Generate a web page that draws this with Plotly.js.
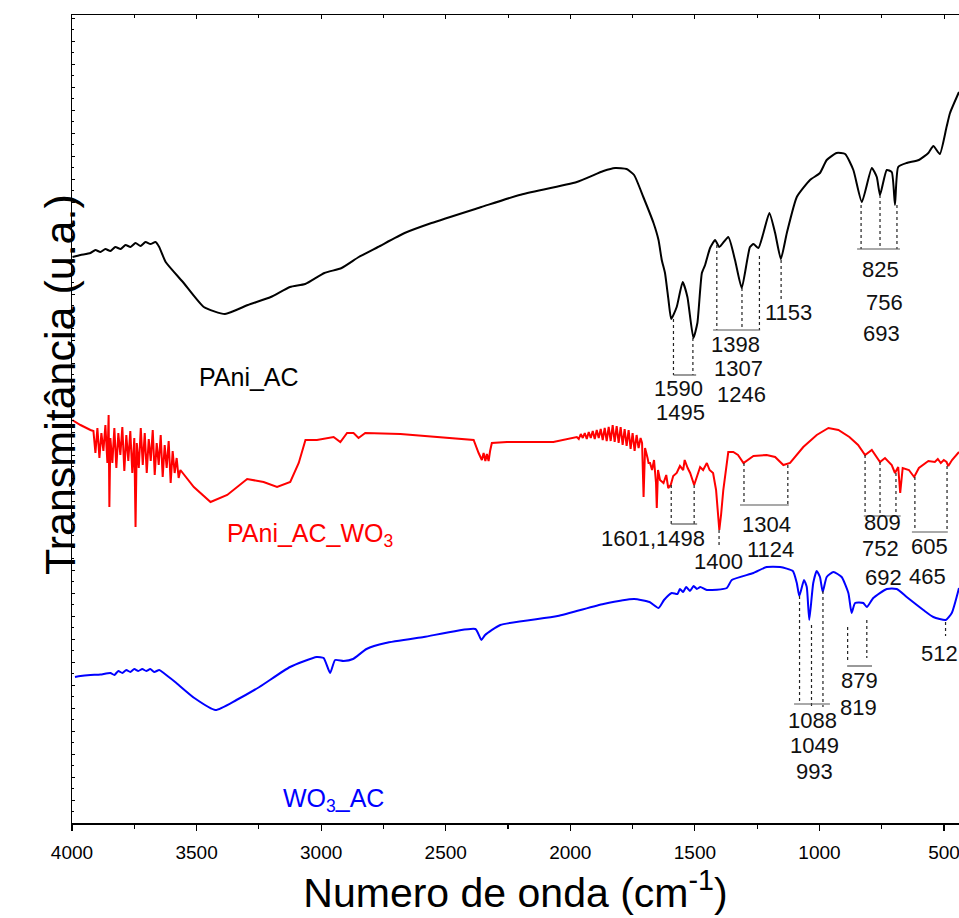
<!DOCTYPE html>
<html>
<head>
<meta charset="utf-8">
<script src="https://cdn.plot.ly/plotly-3.0.1.min.js"></script>
<style>html,body{margin:0;padding:0;background:#fff;}#chart{width:959px;height:918px;}</style>
</head>
<body>
<div id="chart"></div>
<script>
// ---- data: [wavenumber (cm-1), transmittance (a.u.)] ----
const pani_ac = [[3998,566],[3966,568],[3926,570],[3906,573],[3886,571],[3866,574],[3846,572],[3826,576],[3805,574],[3785,578],[3765,576],[3745,580],[3725,577],[3705,581],[3685,579],[3665,581],[3650,576],[3624,561],[3555,541],[3471,516],[3386,509],[3294,518],[3202,526],[3125,536],[3064,539],[2987,550],[2918,555],[2849,566],[2772,576],[2665,590],[2557,600],[2357,616],[2204,628],[1974,641],[1867,652],[1820,655],[1774,654],[1744,648],[1707,626],[1666,600],[1646,583],[1633,563],[1620,550],[1606,523],[1595,504],[1573,516],[1549,541],[1530,526],[1506,485],[1490,500],[1472,550],[1459,558],[1450,566],[1439,575],[1419,583],[1402,576],[1366,586],[1339,563],[1312,535],[1279,576],[1265,579],[1245,575],[1225,590],[1201,610],[1178,590],[1155,564],[1131,590],[1091,626],[1038,643],[998,650],[971,663],[931,670],[897,669],[864,653],[830,621],[790,655],[770,646],[757,628],[730,653],[710,651],[697,618],[684,656],[650,660],[601,663],[563,670],[543,677],[517,669],[490,696],[476,710],[440,731]];

const pani_ac_wo3 = [[3999,403],[3966,398],[3926,393],[3914,392],[3906,370],[3898,395],[3890,365],[3882,390],[3874,372],[3866,398],[3858,360],[3853,408],[3850,316],[3846,385],[3838,360],[3830,395],[3822,355],[3814,390],[3806,368],[3798,396],[3790,352],[3782,388],[3774,362],[3766,392],[3758,350],[3750,385],[3745,296],[3740,380],[3732,355],[3724,395],[3716,358],[3708,390],[3700,350],[3692,384],[3684,362],[3676,393],[3668,348],[3660,380],[3652,358],[3644,388],[3636,346],[3628,378],[3620,355],[3612,382],[3604,340],[3596,372],[3588,350],[3580,365],[3572,345],[3565,353],[3511,336],[3444,321],[3377,328],[3297,344],[3231,341],[3177,336],[3124,341],[3090,360],[3063,383],[3017,383],[2950,386],[2923,381],[2896,390],[2870,390],[2850,385],[2823,390],[2682,389],[2388,383],[2368,370],[2360,365],[2355,363],[2348,370],[2341,362],[2335,369],[2328,362],[2322,372],[2315,380],[2254,381],[2068,381],[1974,386],[1966,384],[1958,389],[1950,385],[1942,390],[1934,384],[1926,391],[1918,385],[1910,392],[1902,384],[1894,393],[1886,385],[1878,394],[1870,383],[1862,395],[1854,382],[1846,396],[1838,382],[1830,398],[1822,381],[1814,397],[1806,380],[1798,396],[1790,378],[1782,394],[1774,377],[1766,393],[1758,374],[1750,390],[1742,372],[1734,388],[1726,375],[1718,385],[1712,380],[1706,326],[1700,375],[1690,365],[1686,360],[1680,360],[1672,353],[1664,363],[1656,340],[1653,315],[1648,353],[1640,343],[1626,340],[1615,348],[1607,335],[1597,338],[1587,347],[1573,350],[1560,357],[1547,353],[1541,363],[1529,355],[1519,350],[1503,338],[1491,348],[1479,356],[1467,353],[1452,360],[1441,353],[1427,350],[1415,333],[1402,293],[1395,308],[1386,333],[1366,371],[1346,371],[1327,368],[1305,360],[1265,367],[1212,368],[1178,366],[1145,358],[1118,360],[1065,376],[1011,388],[964,395],[924,393],[880,386],[845,378],[817,368],[790,373],[757,361],[737,365],[710,358],[697,350],[684,356],[676,330],[666,355],[641,353],[620,346],[601,355],[563,362],[537,361],[525,364],[513,360],[501,363],[490,361],[483,357],[468,363],[456,366],[440,371]];

const wo3_ac = [[3988,146],[3966,147],[3926,148],[3886,148.5],[3846,150],[3830,148],[3814,152],[3798,150],[3782,153],[3766,151],[3750,154],[3734,152],[3718,154],[3702,152],[3686,154],[3670,151],[3650,153],[3632,150],[3586,141],[3509,125],[3424,113],[3340,123],[3248,136],[3125,156],[3018,166],[2990,165],[2964,150],[2944,163],[2910,162],[2872,164],[2818,174],[2741,180],[2588,186],[2381,194],[2357,183],[2342,188],[2281,198],[2051,207],[1867,219],[1744,224],[1682,221],[1646,215],[1624,223],[1593,230],[1570,229],[1560,234],[1547,231],[1535,236],[1520,232],[1505,237],[1492,234],[1478,236],[1452,233],[1372,235],[1352,243],[1265,250],[1212,256],[1158,256],[1107,252],[1091,240],[1081,227],[1062,243],[1051,236],[1041,203],[1025,240],[1011,252],[998,246],[987,231],[971,246],[944,251],[911,246],[884,230],[871,210],[857,220],[824,220],[810,216],[784,225],[730,234],[690,234],[650,226],[583,213],[543,206],[493,203],[469,210],[440,235]];

const seriesNames = ["PAni_AC", "PAni_AC_WO<sub>3</sub>", "WO<sub>3</sub>_AC"];
const seriesColors = ["#000000", "#ff0000", "#0000ff"];
const seriesShapes = ["spline", "linear", "spline"];
const seriesLabelX = [3289, 3043, 2951];
const seriesLabelY = [446, 288, 23];

// peak marker drop lines (wavenumber, from y, to y)
const dropX      = [1586,1508, 1412,1311,1241, 1154, 833,757,689, 1595,1503, 1403, 1303,1127, 817,757,693, 617,488, 1080,1032,986, 887,810, 494];
const dropTop    = [504,485, 578,535,567, 563, 618,628,618, 338,338, 293, 360,358, 368,361,350, 346,357, 227,198,232, 196,203, 201];
const dropBottom = [448,448, 493,493,493, 521, 574,574,574, 298,298, 275, 318,318, 308,308,308, 293,293, 119,117,116, 163,165, 187];
// brackets joining groups of peaks
const barX0 = [1586, 1427, 849, 1595, 1319, 822, 629, 1102, 889];
const barX1 = [1495, 1238, 677, 1491, 1123, 674, 485, 958, 789];
const barY  = [448, 493, 574, 299, 318, 307, 291, 119, 157];
// peak labels
const peakText = ["1590","1495","1398","1307","1246","1153","825","756","693","1601,1498","1400","1304","1124","809","752","692","605","465","1088","1049","993","879","819","512"];
const peakX = [1567,1559,1339,1327,1311,1126,757,741,753,1668,1407,1211,1195,749,757,745,557,565,1026,1018,1018,838,842,517];
const peakY = [435,411,479,455,429,511,554,521,490,285,262,299,274,301,275,246,277,247,103,78,52,143,116,170];

const xTicks = [4000,3500,3000,2500,2000,1500,1000,500];

const FONT = 'Arial, "Liberation Sans", sans-serif';
const allSeries = [pani_ac, pani_ac_wo3, wo3_ac];

const traces = allSeries.map((s, i) => ({
  type: 'scatter', mode: 'lines',
  x: s.map(p => p[0]), y: s.map(p => p[1]),
  name: seriesNames[i],
  line: {color: seriesColors[i], width: 2, shape: seriesShapes[i], smoothing: 0.5},
  showlegend: false, hoverinfo: 'skip'
}));
// empty trace to bind the top frame axis
traces.push({type:'scatter', mode:'lines', x:[], y:[], xaxis:'x2', yaxis:'y', showlegend:false, hoverinfo:'skip'});

const shapes = [];
dropX.forEach((x, i) => shapes.push({type:'line', xref:'x', yref:'y', x0:x, x1:x, y0:dropTop[i], y1:dropBottom[i], line:{color:'#222', width:1.2, dash:'dot'}}));
barX0.forEach((x, i) => shapes.push({type:'line', xref:'x', yref:'y', x0:x, x1:barX1[i], y0:barY[i], y1:barY[i], line:{color:'#555', width:1.2}}));

const annotations = [];
peakText.forEach((t, i) => annotations.push({xref:'x', yref:'y', x:peakX[i], y:peakY[i], text:t, showarrow:false, font:{family:FONT, size:22, color:'#111'}}));
seriesNames.forEach((t, i) => annotations.push({xref:'x', yref:'y', x:seriesLabelX[i], y:seriesLabelY[i], text:t, showarrow:false, font:{family:FONT, size:25, color:seriesColors[i]}}));
annotations.push({xref:'paper', yref:'paper', x:-0.042, y:0.543, text:'Transmitância (u.a.)', textangle:-90, showarrow:false, font:{family:FONT, size:43, color:'#000'}});

const layout = {
  width: 959, height: 918,
  margin: {l:72, r:0, t:15, b:95},
  paper_bgcolor: '#fff', plot_bgcolor: '#fff',
  font: {family: FONT, color:'#000'},
  xaxis: {
    range: [4000, 440], tickvals: xTicks, ticktext: xTicks.map(String),
    ticks: 'outside', ticklen: 6, tickwidth: 1.2, tickcolor:'#000',
    minor: {dtick: 250, tick0: 0, ticks: 'outside', ticklen: 4, tickcolor:'#000'},
    showline: true, mirror: true, linecolor: '#000', linewidth: 1.5, showgrid: false, zeroline: false,
    tickfont: {family: FONT, size: 19}, ticklabelstandoff: 6, ticklabeloverflow: 'allow',
    title: {text: 'Numero de onda (cm<sup>-1</sup>)', font: {family: FONT, size: 41}, standoff: 16}
  },
  xaxis2: {
    overlaying: 'x', side: 'top', anchor: 'y', range: [4000, 440], tickvals: xTicks,
    ticks: 'inside', ticklen: 4, tickcolor:'#000', showticklabels: false,
    minor: {dtick: 250, tick0: 0, ticks: 'inside', ticklen: 3, tickcolor:'#000'},
    showline: true, linecolor: '#000', linewidth: 1.5, showgrid: false, zeroline: false
  },
  yaxis: {
    range: [0, 808], dtick: 23, tick0: 0, ticks: 'inside', ticklen: 3, tickcolor:'#000',
    minor: {dtick: 11.5, ticks: 'inside', ticklen: 2, tickcolor:'#000'},
    showticklabels: false, showline: true, linecolor: '#000', linewidth: 1.5,
    showgrid: false, zeroline: false
  },
  shapes: shapes,
  annotations: annotations
};

Plotly.newPlot('chart', traces, layout, {staticPlot: true, displayModeBar: false});
</script>
</body>
</html>
